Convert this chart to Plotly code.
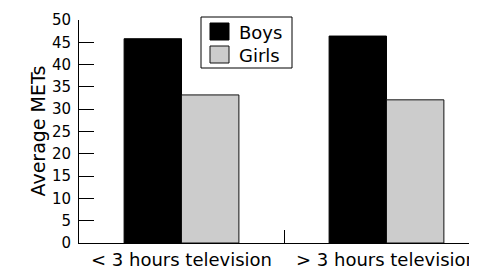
import plotly.graph_objects as go

categories = ["< 3 hours television", "> 3 hours television"]
boys = [45.8, 46.4]
girls = [33.2, 32.1]
series_names = ["Boys", "Girls"]
y_ticks = [0, 5, 10, 15, 20, 25, 30, 35, 40, 45, 50]

FONT = "DejaVu Sans"
BOYS_COLOR = "#000000"
GIRLS_COLOR = "#cccccc"

# the page places the figure 8px in from the top-left corner (body margin)
OFF = 8

fig = go.Figure()
fig.add_trace(go.Bar(x=categories, y=boys, name=series_names[0],
                     marker=dict(color=BOYS_COLOR, line=dict(color="#000000", width=1)),
                     showlegend=False))
fig.add_trace(go.Bar(x=categories, y=girls, name=series_names[1],
                     marker=dict(color=GIRLS_COLOR, line=dict(color="#111111", width=1)),
                     showlegend=False))

# target page pixel layout
PL, PT, PB, PR = 79, 20, 243, 477
W, H = PR - OFF, 268 - OFF
L, T = PL - OFF, PT - OFF
B = H - (PB - OFF)
R = 0
pw = W - L - R
ph = H - T - B

def px_x(p):
    return (p - OFF - L) / pw

def px_y(p):
    return (H - B - (p - OFF)) / ph

# custom legend
shapes = [
    dict(type="rect", xref="paper", yref="paper",
         x0=px_x(201), x1=px_x(292), y0=px_y(68), y1=px_y(17),
         line=dict(color="#000000", width=1), fillcolor="rgba(0,0,0,0)"),
    dict(type="rect", xref="paper", yref="paper",
         x0=px_x(210), x1=px_x(229), y0=px_y(40), y1=px_y(23),
         line=dict(color="#000000", width=1), fillcolor=BOYS_COLOR),
    dict(type="rect", xref="paper", yref="paper",
         x0=px_x(210), x1=px_x(229), y0=px_y(63), y1=px_y(46),
         line=dict(color="#111111", width=1), fillcolor=GIRLS_COLOR),
]
annotations = [
    dict(xref="paper", yref="paper", x=px_x(237), y=px_y(32), text=series_names[0],
         showarrow=False, xanchor="left", yanchor="middle",
         font=dict(family=FONT, size=18, color="#000000")),
    dict(xref="paper", yref="paper", x=px_x(237), y=px_y(55), text=series_names[1],
         showarrow=False, xanchor="left", yanchor="middle",
         font=dict(family=FONT, size=18, color="#000000")),
    dict(xref="paper", yref="paper", x=px_x(37), y=0.5, text="Average METs",
         showarrow=False, xanchor="center", yanchor="middle", textangle=-90,
         font=dict(family=FONT, size=19, color="#000000")),
]

fig.update_layout(
    width=W, height=H,
    margin=dict(l=L, r=R, t=T, b=B, pad=0, autoexpand=False),
    paper_bgcolor="white", plot_bgcolor="white",
    barmode="group", bargap=0.44, bargroupgap=0,
    font=dict(family=FONT, color="#000000"),
    shapes=shapes, annotations=annotations,
    xaxis=dict(range=[-0.5, 1.4415], showline=True, linecolor="#000000", linewidth=1,
               ticks="inside", tickson="boundaries", ticklen=13, tickcolor="#000000",
               tickwidth=1, showgrid=False, zeroline=False, automargin=False,
               tickfont=dict(family=FONT, size=18, color="#000000")),
    yaxis=dict(range=[0, 50], tickvals=y_ticks, showline=True, linecolor="#000000",
               linewidth=1, ticks="inside", ticklen=15, tickcolor="#000000", tickwidth=1,
               showgrid=False, zeroline=False, ticklabelstandoff=4, automargin=False,
               tickfont=dict(family=FONT, size=15, color="#000000")),
)

fig.write_html("out.html")
